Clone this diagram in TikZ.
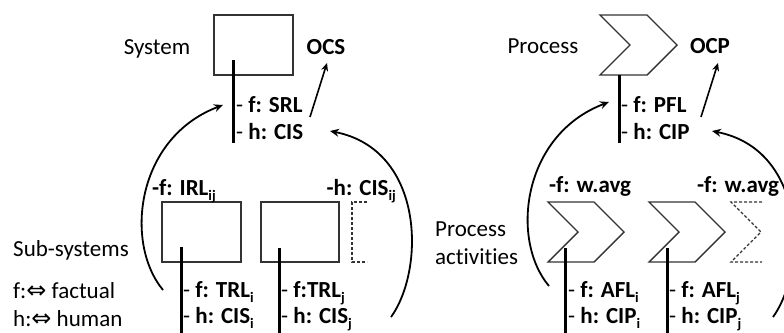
\documentclass[tikz,border=0pt]{standalone}
\usepackage{fontspec}
\setmainfont[Ligatures={NoCommon}]{Carlito}
\newfontfamily\symfont{DejaVu Sans}
\usetikzlibrary{arrows.meta}
\newcommand{\sbs}[1]{\raisebox{-0.22em}{\fontsize{14.5}{14.5}\selectfont #1}}
\tikzset{
  lbl/.style={inner sep=0pt, anchor=base west},
  boxshape/.style={draw=black!80, line width=1.4pt, inner sep=0pt},
  dashshape/.style={draw=black!80, line width=1.2pt, dash pattern=on 3pt off 2pt},
  stem/.style={line width=3pt},
  arcline/.style={line width=1.8pt, -{Stealth[length=9pt,width=8pt]}},
  outarrow/.style={line width=1.6pt, -{Stealth[length=8pt,width=7pt]}},
}
\begin{document}
\begin{tikzpicture}[x=1pt,y=-1pt, font=\fontsize{23}{27}\selectfont]
\useasboundingbox (0,0) rectangle (784,332);
\clip (0,0) rectangle (784,332);

% ---------- left half: system ----------
\node[boxshape, minimum width=79pt, minimum height=60pt] (sys) at (253.5,45) {};
\node[inner sep=0pt, anchor=base] (systxt) at (157,54) {System};
\node[inner sep=0pt, anchor=base] (ocs) at (326,54) {\textbf{OCS}};
\coordinate (sysA) at (233,60);
\coordinate (sysB) at (233,143);
\draw[stem] (sysA) -- (sysB);
\node[lbl] (srl) at (236,112) {- \textbf{f: SRL}};
\node[lbl] (cis) at (236,139) {- \textbf{h: CIS}};
\coordinate (ocsS) at (310,117);
\coordinate (ocsE) at (327,63);
\draw[outarrow] (ocsS) -- (ocsE);

\node[boxshape, minimum width=79pt, minimum height=60pt] (sub1) at (201.5,232) {};
\node[boxshape, minimum width=78pt, minimum height=60pt] (sub2) at (300,232) {};
\draw[dashshape] (367,202) -- (352,202) -- (352,262) -- (367,262);
\coordinate (s1A) at (181,247);
\coordinate (s1B) at (181,336);
\coordinate (s2A) at (279,248);
\coordinate (s2B) at (279,336);
\draw[stem] (s1A) -- (s1B);
\draw[stem] (s2A) -- (s2B);

\node[lbl] (subsys) at (13,256) {Sub-systems};
\node[lbl] (legf) at (13,298) {f:{\symfont\fontsize{24}{26}\selectfont ⇔} factual};
\node[lbl] (legh) at (13,326) {h:{\symfont\fontsize{24}{26}\selectfont ⇔} human};
\node[lbl] (irl) at (152,195) {\textbf{-f: IRL\sbs{ij}}};
\node[inner sep=0pt, anchor=base east] (cisij) at (396,195) {\textbf{-h: CIS\sbs{ij}}};
\node[lbl] (trli) at (183,297) {- \textbf{f: TRL\sbs{i}}};
\node[lbl] (cisi) at (183,323) {- \textbf{h: CIS\sbs{i}}};
\node[lbl] (trlj) at (281,297) {- \textbf{f:TRL\sbs{j}}};
\node[lbl] (cisj) at (281,323) {- \textbf{h: CIS\sbs{j}}};

\coordinate (lA) at (163,290);
\coordinate (lB) at (223,105);
\draw[arcline] (lA) .. controls (124,243) and (136,138) .. (lB);
\coordinate (rA) at (391,317);
\coordinate (rB) at (330,131);
\draw[arcline] (rA) .. controls (425,270) and (425,150) .. (rB);

% ---------- right half: process ----------
\draw[boxshape] (600,15) -- (647,15) -- (677,45) -- (647,75) -- (600,75) -- (630,45) -- cycle;
\node[inner sep=0pt, anchor=base] (proctxt) at (543,53) {Process};
\node[inner sep=0pt, anchor=base] (ocp) at (710,53) {\textbf{OCP}};
\coordinate (prA) at (619,75);
\coordinate (prB) at (619,143);
\draw[stem] (prA) -- (prB);
\node[lbl] (pfl) at (621,112) {- \textbf{f: PFL}};
\node[lbl] (cip) at (621,139) {- \textbf{h: CIP}};
\coordinate (ocpS) at (701,117);
\coordinate (ocpE) at (718,63);
\draw[outarrow] (ocpS) -- (ocpE);

\draw[boxshape] (548,202) -- (594,202) -- (624,232) -- (594,262) -- (548,262) -- (578,232) -- cycle;
\draw[boxshape] (649,202) -- (695,202) -- (725,232) -- (695,262) -- (649,262) -- (679,232) -- cycle;
\draw[dashshape] (762,202) -- (731,202) -- (761,232) -- (731,262) -- (762,262);
\coordinate (a1A) at (565,248);
\coordinate (a1B) at (565,336);
\coordinate (a2A) at (667,248);
\coordinate (a2B) at (667,336);
\draw[stem] (a1A) -- (a1B);
\draw[stem] (a2A) -- (a2B);

\node[lbl] (pa1) at (435,236) {Process};
\node[lbl] (pa2) at (435,264) {activities};
\node[lbl] (wavg1) at (549,192) {\textbf{-f: w.avg}};
\node[lbl] (wavg2) at (697,192) {\textbf{-f: w.avg}};
\node[lbl] (afli) at (568,297) {- \textbf{f: AFL\sbs{i}}};
\node[lbl] (cipi) at (568,323) {- \textbf{h: CIP\sbs{i}}};
\node[lbl] (aflj) at (669,297) {- \textbf{f: AFL\sbs{j}}};
\node[lbl] (cipj) at (669,323) {- \textbf{h: CIP\sbs{j}}};

\coordinate (plA) at (549,286);
\coordinate (plB) at (609,102);
\draw[arcline] (plA) .. controls (510,240) and (522,135) .. (plB);
\coordinate (prrA) at (773,317);
\coordinate (prrB) at (712,131);
\draw[arcline] (prrA) .. controls (807,270) and (807,150) .. (prrB);
\end{tikzpicture}
\end{document}
